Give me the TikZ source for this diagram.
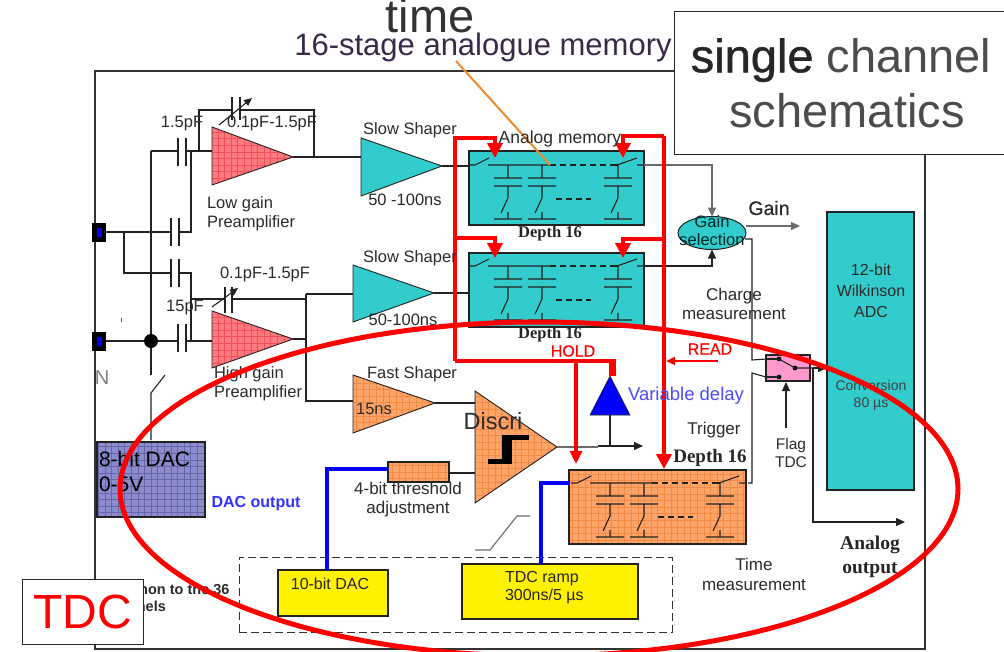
\documentclass[tikz,border=0pt]{standalone}
\usepackage{fontspec}
\setmainfont{Liberation Sans}
\newfontfamily\serifb[BoldFont={Liberation Serif Bold}]{Liberation Serif}
\newfontfamily\fakeb[FakeBold=0.9]{Liberation Sans}
\newfontfamily\fakec[FakeBold=0.5]{Liberation Sans}
\usetikzlibrary{arrows.meta,shapes.geometric}
\definecolor{teal1}{HTML}{33CCCC}
\definecolor{txt}{HTML}{2B2B2B}
\definecolor{wirec}{HTML}{222222}
\definecolor{orng}{HTML}{FFA468}
\definecolor{orngg}{HTML}{F08A45}
\definecolor{pinkred}{HTML}{FF7A80}
\definecolor{pinkg}{HTML}{F0505A}
\definecolor{dacblue}{HTML}{8C8CCC}
\definecolor{dacg}{HTML}{6666AA}
\definecolor{pinkb}{HTML}{FF99CC}
\definecolor{framec}{HTML}{333333}
\definecolor{ptrc}{HTML}{ED8B2D}
\definecolor{memtxt}{HTML}{3A2A4A}
\tikzset{
  every node/.style={outer sep=0pt},
  wire/.style={draw=wirec,line width=1.1pt},
  graywire/.style={draw=gray!85!black,line width=1.1pt},
  tip/.style={-{Triangle[width=8pt,length=9pt]}},
  redl/.style={draw=red,line width=4pt,line join=miter},
  redarrow/.style={redl,-{Triangle[width=15pt,length=15pt]}},
  bluel/.style={draw=blue,line width=4.5pt,line join=miter},
  lbl/.style={font=\fontsize{16.5}{19}\selectfont,text=txt,inner sep=0pt,align=center},
  lblb/.style={font=\fontsize{16.5}{20}\selectfont\serifb\bfseries,text=black!85,inner sep=0pt,align=center},
  gridded/.style={path picture={\draw[#1,line width=0.35pt,step=6.6pt]
     (path picture bounding box.south west) grid (path picture bounding box.north east);}},
  amp/.style={draw=wirec,line width=0.9pt},
  membox/.style={draw=wirec,line width=1.2pt,anchor=north west,inner sep=0pt},
  yellowbox/.style={draw=wirec,line width=1.2pt,fill=yellow,anchor=north west,inner sep=0pt},
  memcell/.pic={
    \draw[wire] (0,0)--(0,13) (-14,13)--(14,13) (-14,21)--(14,21) (0,21)--(0,33)--(-7,48)
      (0,47)--(0,54) (-14,54)--(14,54);
  },
  membank/.pic={
    \draw[wire] (0,14)--(6,14)--(20,7) (19,14)--(81,14) (148,14)--(168,7) (168,14)--(175,14);
    \draw[wire,dash pattern=on 6pt off 4pt] (81,14)--(145,14) (87,48)--(122,48);
    \draw[wire] (145,14)--(149,14);
    \pic at (39,14) {memcell};
    \pic at (73,14) {memcell};
    \pic at (149,14) {memcell};
  },
  capv/.pic={
    \draw[wire] (-4,-14)--(-4,14) (4,-14)--(4,14);
  },
}
\begin{document}
\begin{tikzpicture}[x=1pt,y=-1pt]
\useasboundingbox (0,0) rectangle (1004,651);
\clip (0,0) rectangle (1004,651);
\fill[white] (0,0) rectangle (1004,651);
% frame
\node[draw=framec,line width=2.4pt,anchor=north west,minimum width=830pt,minimum height=578pt,inner sep=0pt] (frame) at (95,71) {};

% coordinates
\coordinate (padA) at (99,232);
\coordinate (padB) at (99,341);
\coordinate (jA) at (124,232);
\coordinate (jB) at (124,273);
\coordinate (bus1) at (151,151);
\coordinate (busEnd) at (151,375);
\coordinate (cA1) at (171,232);
\coordinate (cA2) at (179,232);
\coordinate (cB1) at (171,273);
\coordinate (cB2) at (179,273);
\coordinate (lgIn) at (212,151);
\coordinate (hgIn) at (212,341);
\coordinate (lgOut) at (293,157);
\coordinate (hgOut) at (293,339);
\coordinate (ss1In) at (361,157);
\coordinate (ss1Out) at (442,166);
\coordinate (ss2In) at (353,294);
\coordinate (ss2Out) at (434,293);
\coordinate (fsIn) at (353,401);
\coordinate (fsOut) at (435,403);
\coordinate (dsIn1) at (475,403);
\coordinate (dsIn2) at (475,473);
\coordinate (dsOut) at (557,447);

% left wiring
\draw[wire] (padA)--(cA1) (cA2)--(191,232)--(191,151)--(lgIn);
\draw[wire] (jA)--(jB)--(cB1) (cB2)--(191,273)--(191,341)--(hgIn);
\draw[wire] (padB)--(178,341) (186,341)--(191,341);
\draw[wire] (151,151)--(178,151) (186,151)--(191,151);
\draw[wire] (bus1)--(busEnd);
\draw[wire] (151,440)--(151,393)--(165,375);
\pic at (175,232) {capv};
\pic at (175,273) {capv};
\pic at (182,152) {capv};
\pic at (182,337.500) {capv};
\fill[black] (151,341) circle (7pt);
% feedback
\draw[wire] (199,151)--(199,110)--(314,110)--(314,157);
\draw[white,line width=5pt] (232.5,110)--(239.5,110);
\draw[wire] (232,97)--(232,120) (240,97)--(240,120);
\draw[wire,-{Triangle[width=7pt,length=8pt]}] (219,125)--(252,98);
\draw[wire] (lgOut)--(ss1In);
\draw[wire] (191,299)--(225,299) (232,299)--(306,299);
\draw[wire] (225,287)--(225,313) (232,287)--(232,313);
\draw[wire,-{Triangle[width=7pt,length=8pt]}] (212,307)--(238,288);
\draw[wire] (306,294)--(ss2In);
\draw[wire] (306,294)--(306,401)--(fsIn);
\draw[wire] (hgOut)--(306,339);
\draw[wire] (fsOut)--(dsIn1);

% pads
\foreach \p/\n in {padA/pA,padB/pB}{
  \node[fill=black,minimum width=14pt,minimum height=19pt,inner sep=0pt] (\n) at (\p) {};
  \node[fill=blue,minimum width=5pt,minimum height=9pt,inner sep=0pt] at (\p) {};
}

% amplifiers
\filldraw[amp,fill=pinkred,gridded=pinkg] (212,127)--(212,185)--(lgOut)--cycle;
\filldraw[amp,fill=pinkred,gridded=pinkg] (212,311)--(212,368)--(hgOut)--cycle;
\filldraw[amp,fill=teal1] (361,138)--(361,196)--(ss1Out)--cycle;
\filldraw[amp,fill=teal1] (353,265)--(353,322)--(ss2Out)--cycle;
\filldraw[amp,fill=orng,gridded=orngg] (353,375)--(353,433)--(fsOut)--cycle;
\filldraw[amp,fill=orng,gridded=orngg] (475,391)--(475,503)--(dsOut)--cycle;
% discriminator symbol
\draw[black,line width=5pt,line join=miter] (488,461)--(509,461)--(509,437) (529,437)--(504,437)--(504,461);

% memories
\node[membox,fill=teal1,minimum width=175pt,minimum height=74pt] (mem1) at (469,151) {};
\node[membox,fill=teal1,minimum width=175pt,minimum height=74pt] (mem2) at (469,253) {};
\node[membox,fill=orng,gridded=orngg,minimum width=177pt,minimum height=74pt] (mem3) at (569,470) {};
\pic at (469,151) {membank};
\pic at (469,252) {membank};
\pic at (571,469) {membank};

\draw[wire] (ss1Out)--(mem1.west|-ss1Out);
\draw[wire] (ss2Out)--(mem2.west|-ss2Out);

% gain selection
\node[draw=wirec,line width=1pt,fill=teal1,ellipse,minimum width=68pt,minimum height=33pt,inner sep=0pt] (gainsel) at (712,233) {};
\coordinate (m1out) at (644,165);
\coordinate (m2out) at (644,266);
\draw[graywire,tip] (m1out)--(712,165)--(gainsel.north);
\draw[wire,tip] (m2out)--(712,266)--(gainsel.south);
\coordinate (gainOut) at (800,226);
\draw[graywire,tip] (gainsel.east|-gainOut)--(gainOut);
\node[lbl,font=\fontsize{16.5}{18}\selectfont,text=black!70!teal] (gaintxt) at (712,231) {Gain\\selection};

% ADC and switch
\node[draw=wirec,line width=1.2pt,fill=teal1,anchor=north west,minimum width=87pt,minimum height=278pt,inner sep=0pt] (adc) at (827,212) {};
\node[draw=wirec,line width=1.2pt,fill=pinkb,anchor=north west,minimum width=44pt,minimum height=26pt,inner sep=0pt] (sw) at (766,355) {};
\coordinate (swA) at (779,359);
\coordinate (swB) at (779,377);
\coordinate (swC) at (795,368);
\coordinate (swT) at (813,368);
\coordinate (aout) at (905,522);
\coordinate (flag) at (786,428);
\foreach \c in {swA,swB,swC} \fill[black] (\c) circle (2.4pt);
\draw[wire] (swA)--(swC) (swC)--(swT);
\draw[wire] (766,359)--(swA) (766,377)--(swB);
\draw[wire,tip] (swT)--(adc.west|-swT);
\draw[wire,tip] (swT)--(813,522)--(aout);
\draw[wire,tip] (flag)--(786,382);
\draw[wire] (745,239)--(752,239)--(752,360)--(sw.west|-swA);
\draw[wire] (748,483)--(752,483)--(752,373)--(sw.west|-swB);

% delay, trigger
\filldraw[draw=wirec,line width=0.6pt,fill=blue] (610,376)--(590,415)--(630,415)--cycle;
\coordinate (trigOut) at (643,446);
\draw[graywire] (dsOut)--(598,447);
\draw[wire,tip] (598,446)--(trigOut);
\draw[wire] (610,415)--(610,447);

% threshold and DACs
\node[draw=wirec,line width=1.2pt,fill=orng,gridded=orngg,anchor=north west,minimum width=61pt,minimum height=20pt,inner sep=0pt] (thr) at (388,462) {};
\draw[wire] (thr.east|-dsIn2)--(dsIn2);
\node[draw=black!80,line width=1pt,dash pattern=on 8pt off 4pt,anchor=north west,minimum width=433pt,minimum height=75pt,inner sep=0pt] (common) at (239,557) {};
\node[yellowbox,minimum width=110pt,minimum height=46pt] (dac10) at (278,570) {};
\node[yellowbox,minimum width=176pt,minimum height=55pt] (ramp) at (462,564) {};
\draw[bluel] (thr.west|-0,469)--(327,469)--(dac10.north-|327,0);
\draw[bluel] (mem3.west|-0,483)--(541,483)--(ramp.north-|541,0);
\draw[gray!85!black,line width=1.1pt] (475,550)--(490,550)--(517,516)--(530,516);

% 8 bit DAC
\node[draw=wirec,line width=1.2pt,fill=dacblue,gridded=dacg,anchor=north west,minimum width=108pt,minimum height=75pt,inner sep=0pt] (dac8) at (97,442) {};

% red control lines
\coordinate (rl) at (455,361);
\draw[redl] (rl)--(455,138)--(480,138);
\draw[redarrow] (480,138)--(495,138)--(495,158);
\draw[redarrow] (455,238)--(495,238)--(495,258);
\draw[redl] (640,136)--(664,136);
\draw[redarrow] (640,136)--(623,136)--(623,158);
\draw[redarrow] (664,239)--(623,239)--(623,258);
\draw[redarrow] (664,136)--(664,469);
\draw[redl] (rl)--(612,361);
\draw[draw=red,line width=7pt] (612,359)--(612,376);
\draw[draw=red,line width=3.5pt,-{Triangle[width=12pt,length=13pt]}] (576,361)--(576,464);
\coordinate (readS) at (718,361);
\draw[draw=red,line width=2.4pt,-{Triangle[width=8pt,length=9pt]}] (readS)--(666,361);

% orange pointer
\coordinate (ptrS) at (456,61);
\coordinate (ptrE) at (550,165);
\draw[draw=ptrc,line width=2pt] (ptrS)--(ptrE);

% small marks
\draw[red,line width=0.8pt] (121,318)--(121,322);

% labels
\node[lbl] (l1) at (182,124) {1.5pF};
\node[lbl] (l2) at (272,123) {0.1pF-1.5pF};
\node[lbl] (l3) at (410,130) {Slow Shaper};
\node[lbl] (l4) at (405,200) {50 -100ns};
\node[lbl,align=left,anchor=west] (l5) at (207,214) {Low gain\\Preamplifier};
\node[lbl] (l6) at (410,258) {Slow Shaper};
\node[lbl] (l7) at (265,274) {0.1pF-1.5pF};
\node[lbl] (l8) at (185,308) {15pF};
\node[lbl] (l9) at (403,320) {50-100ns};
\node[lbl,align=left,anchor=west] (l10) at (214,384) {High gain\\Preamplifier};
\node[lbl] (l11) at (412,374) {Fast Shaper};
\node[lbl] (l12) at (374,409) {15ns};
\node[lbl,font=\fontsize{20}{22}\selectfont,text=gray] (l13) at (102,378) {N};
\node[lbl,font=\fontsize{17.5}{20}\selectfont] (l14) at (560,139) {Analog memory};
\node[lblb] (l15) at (550,234) {Depth 16};
\node[lblb] (l16) at (550,335) {Depth 16};
\node[lblb,font=\fontsize{19}{22}\selectfont\serifb\bfseries] (l17) at (710,458) {Depth 16};
\node[lbl,font=\fontsize{16}{19}\selectfont\fakec,text=red] (l18) at (573,351) {HOLD};
\node[lbl,font=\fontsize{16}{19}\selectfont\fakec,text=red] (l19) at (710,349) {READ};
\node[lbl,font=\fontsize{18.500}{20}\selectfont,text=blue!70!white] (l20) at (686,396) {Variable delay};
\node[lbl,font=\fontsize{23.5}{26}\selectfont] (l21) at (493,421) {Discri};
\node[lbl,font=\fontsize{19.5}{22}\selectfont\fakec] (l22) at (769,208) {Gain};
\node[lbl,font=\fontsize{17}{18.5}\selectfont] (l23) at (734,304) {Charge\\measurement};
\node[lbl,font=\fontsize{17}{19}\selectfont] (l24) at (714,430) {Trigger};
\node[lbl,font=\fontsize{15.5}{18.5}\selectfont] (l25) at (791,453) {Flag\\TDC};
\node[lbl,font=\fontsize{17}{20}\selectfont] (l26) at (754,574) {Time\\measurement};
\node[lblb,font=\fontsize{19.5}{24}\selectfont\serifb\bfseries] (l27) at (870,557) {Analog\\output};
\node[lbl,font=\fontsize{16}{21}\selectfont] (l28) at (871,291) {12-bit\\Wilkinson\\ADC};
\node[lbl,font=\fontsize{14}{17}\selectfont,text=black!75] (l29) at (871,395.500) {Conversion\\80 µs};
\node[lbl,font=\fontsize{21}{25}\selectfont,text=black,align=left,anchor=west] (l30) at (99,471.500) {8-bit DAC\\0-5V};
\node[lbl,font=\fontsize{16}{19}\selectfont\bfseries,text=blue!80!white] (l31) at (256,504) {DAC output};
\node[lbl,font=\fontsize{17}{19}\selectfont] (l32) at (408,499.500) {4-bit threshold\\adjustment};
\node[lbl,font=\fontsize{14.5}{16.5}\selectfont\bfseries,align=left,anchor=west] (l33) at (103,598) {Common to the 36\\channels};
\node[lbl,font=\fontsize{16}{18}\selectfont,text=black!85] (l34) at (330,584) {10-bit DAC};
\node[lbl,font=\fontsize{16}{18}\selectfont,text=black!85,align=left,anchor=west] (l35) at (505,588) {TDC ramp\\300ns/5 µs};

% big ellipse
\node[draw=red,line width=5pt,ellipse,minimum width=838pt,minimum height=334pt,inner sep=0pt] (tdcring) at (539,489) {};

% title texts
\node[inner sep=0pt,font=\fontsize{47}{50}\selectfont,text=black!80,anchor=base] (t1) at (430,32) {time};
\node[inner sep=0pt,font=\fontsize{31}{34}\selectfont,text=memtxt,anchor=base] (t2) at (483,55) {16-stage analogue memory};
\node[draw=black!85,line width=0.7pt,fill=white,anchor=north west,minimum width=340pt,minimum height=143pt,inner sep=0pt] (sbox) at (674,11) {};
\node[inner sep=0pt,font=\fontsize{47}{55}\selectfont,text=black!70,align=center] (t3) at (841,83) {{\fakeb\color{black!85}single} channel\\\hspace*{12pt}schematics};
\node[draw=black!85,line width=0.7pt,fill=white,minimum width=121pt,minimum height=65pt,inner sep=0pt,
  font=\fontsize{48}{50}\selectfont,text=red] (tdc) at (82.5,611.500) {TDC};
\end{tikzpicture}
\end{document}
